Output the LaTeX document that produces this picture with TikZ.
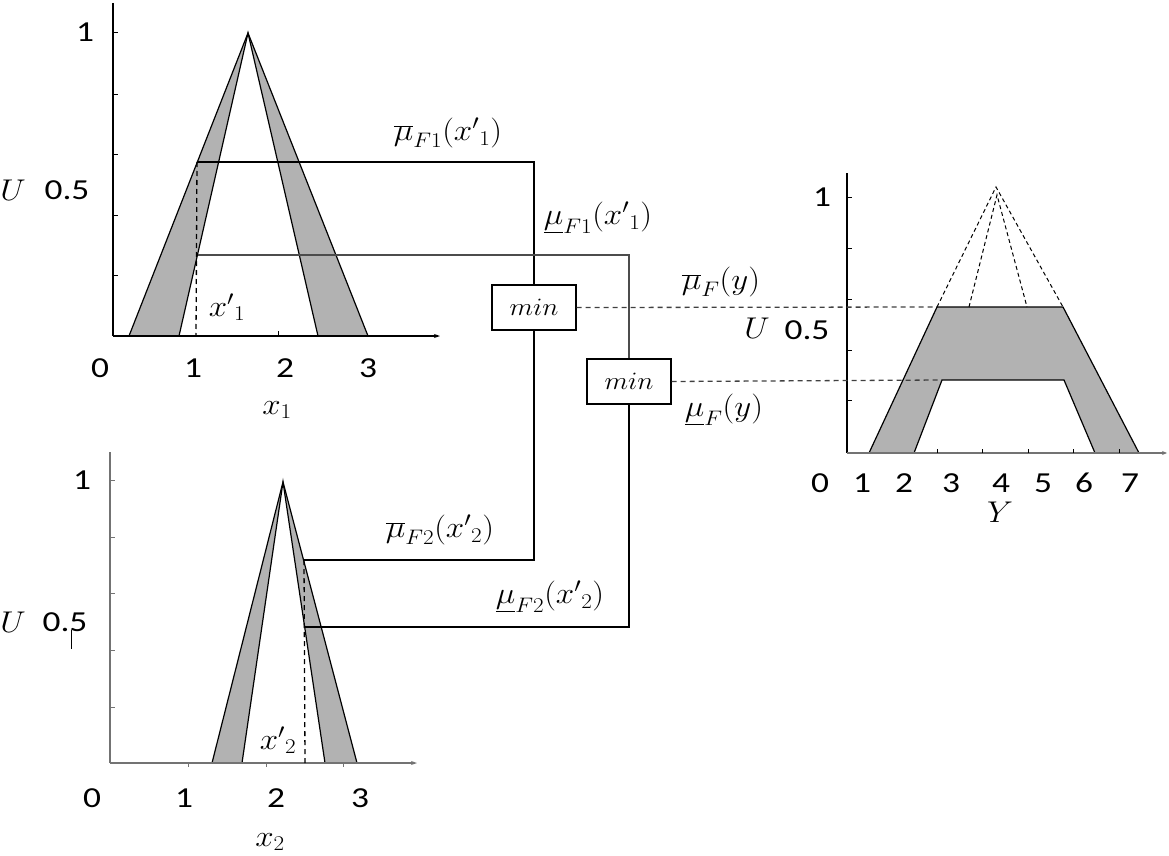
\RequirePackage{fix-cm}
\documentclass[tikz,border=0pt]{standalone}
\usepackage{fontspec}
\setmainfont{Carlito}
\usetikzlibrary{arrows.meta}
\definecolor{shade}{gray}{0.70}
\definecolor{axgray}{gray}{0.45}
\newcommand{\numtxt}[1]{\scalebox{1.22}[1]{#1}}
\newcommand{\mtxt}[1]{\scalebox{1.1}[1]{#1}}
\tikzset{
  num/.style={inner sep=0pt, font=\fontsize{29}{33}\selectfont},
  mlab/.style={inner sep=0pt, font=\fontsize{30}{34}\selectfont},
  minbox/.style={draw, line width=1.3pt, minimum width=84pt, minimum height=45pt, inner sep=0pt, font=\fontsize{25}{28}\selectfont},
  conn/.style={line width=1.3pt},
  conngray/.style={line width=1.3pt, draw=black!70},
  dashline/.style={line width=1.3pt, dash pattern=on 5pt off 4pt},
  peakdash/.style={line width=1pt, dash pattern=on 4pt off 3pt},
  mf/.style={line width=1.2pt},
  axis/.style={line width=1.5pt},
  tick/.style={line width=0.8pt}
}
\begin{document}
\begin{tikzpicture}[x=1pt,y=-1pt]
\useasboundingbox (0,0) rectangle (1169,856);
% ---------- top-left membership functions
\filldraw[mf, fill=shade] (129,336) -- (248,33) -- (368,336) -- cycle;
\filldraw[mf, fill=white] (179,336) -- (248,33) -- (318,336) -- cycle;
\draw[axis] (113,3) -- (113,336);
\draw[axis, -{Stealth[length=6pt,width=4pt]}] (113,336) -- (440,336);
\foreach \yy in {32,94,154,215,275} \draw[tick] (113,\yy) -- (118,\yy);
\draw[tick] (278,336) -- (278,331);
\coordinate (a1) at (197,162);
\coordinate (a2) at (198,255);
\coordinate (d1) at (196,336);
\draw[dashline] (a1) -- (d1);
% ---------- bottom-left membership functions
\filldraw[mf, fill=shade] (212,763) -- (283,482) -- (357,763) -- cycle;
\filldraw[mf, fill=white] (242,763) -- (283,482) -- (325,763) -- cycle;
\draw[axis, line width=2pt, axgray] (110,452) -- (110,763);
\draw[axis, line width=2pt, axgray, -{Stealth[length=6pt,width=4pt]}] (110,763) -- (417,763);
\foreach \yy in {480,537,593,650,707} \draw[tick, axgray] (110,\yy) -- (115,\yy);
\foreach \xx in {188,266,343} \draw[tick, axgray] (\xx,763) -- (\xx,767);
\draw[tick] (71,630) -- (71,649);
\coordinate (b1) at (304,560);
\coordinate (b2) at (305,627);
\coordinate (d2) at (305,763);
\draw[dashline] (b1) -- (d2);
% ---------- right aggregated output
\filldraw[mf, fill=shade] (869,453) -- (937,307) -- (1063,307) -- (1139,453) -- cycle;
\filldraw[mf, fill=white] (914,453) -- (942,380) -- (1064,380) -- (1095,453) -- cycle;
\coordinate (r1) at (937,307);
\coordinate (r2) at (942,380);
\coordinate (p1) at (996,187);
\coordinate (p2) at (997,195);
\draw[peakdash] (r1) -- (p1) -- (1063,307);
\draw[peakdash] (969,307) -- (p2) -- (1027,307);
\draw[axis] (847,173) -- (847,453);
\draw[axis, axgray, -{Stealth[length=5pt,width=4pt]}] (847,453) -- (1167,453);
\foreach \yy in {197,248,299,350,400} \draw[tick] (847,\yy) -- (852,\yy);
\foreach \xx in {937,982,1028,1073,1119} \draw[tick] (\xx,453) -- (\xx,449);
% ---------- min boxes
\node[minbox] (min1) at (534,307.5) {\mtxt{$min$}};
\node[minbox] (min2) at (629,381.5) {\mtxt{$min$}};
% ---------- connectors
\coordinate (c1) at (534,162);
\coordinate (c2) at (534,560);
\coordinate (c3) at (629,255);
\coordinate (c4) at (629,627);
\draw[conn] (a1) -- (c1) -- (min1.north);
\draw[conn] (min1.south) -- (c2) -- (b1);
\draw[conngray] (a2) -- (c3) -- (min2.north);
\draw[conn] (min2.south) -- (c4) -- (b2);
\draw[dashline, draw=black!75] (min1.east) -- (r1);
\draw[dashline, draw=black!75] (min2.east) -- (r2);
% ---------- labels top-left
\node[num] (tl1) at (85,32) {\numtxt{1}};
\node[num] (tlh) at (67,190) {\numtxt{0.5}};
\node[mlab] (tlU) at (13,190) {\mtxt{$U$}};
\node[num] (tx0) at (100,368) {\numtxt{0}};
\node[num] (tx1) at (193,368) {\numtxt{1}};
\node[num] (tx2) at (285,368) {\numtxt{2}};
\node[num] (tx3) at (368,368) {\numtxt{3}};
\node[mlab] (tx) at (277,410) {\mtxt{$x_1$}};
\node[mlab] (txp) at (227,307) {\mtxt{${x'}_1$}};
% ---------- labels bottom-left
\node[num] (bl1) at (82,480) {\numtxt{1}};
\node[num] (blh) at (65,622) {\numtxt{0.5}};
\node[mlab] (blU) at (13,622) {\mtxt{$U$}};
\node[num] (bx0) at (92,798) {\numtxt{0}};
\node[num] (bx1) at (184,798) {\numtxt{1}};
\node[num] (bx2) at (276,798) {\numtxt{2}};
\node[num] (bx3) at (360,798) {\numtxt{3}};
\node[mlab] (bx) at (270,842) {\mtxt{$x_2$}};
\node[mlab] (bxp) at (278,740) {\mtxt{${x'}_2$}};
% ---------- labels right
\node[num] (rl1) at (822,197) {\numtxt{1}};
\node[mlab] (rU) at (757,328) {\mtxt{$U$}};
\node[num] (rh) at (807,330) {\numtxt{0.5}};
\foreach \xx/\t in {820/0,862/1,904/2,951/3,1001/4,1043/5,1084/6,1130/7}
  \node[num] at (\xx,483) {\numtxt{\t}};
\node[mlab] (rY) at (1000,512) {\mtxt{$Y$}};
% ---------- connector labels
\node[mlab] (l1) at (448,133) {\mtxt{$\overline{\mu}_{F1}({x'}_1)$}};
\node[mlab] (l2) at (598,218) {\mtxt{$\underline{\mu}_{F1}({x'}_1)$}};
\node[mlab] (l3) at (721,282) {\mtxt{$\overline{\mu}_{F}(y)$}};
\node[mlab] (l4) at (724,410) {\mtxt{$\underline{\mu}_{F}(y)$}};
\node[mlab] (l5) at (440,530) {\mtxt{$\overline{\mu}_{F2}({x'}_2)$}};
\node[mlab] (l6) at (550,597) {\mtxt{$\underline{\mu}_{F2}({x'}_2)$}};
\end{tikzpicture}
\end{document}
